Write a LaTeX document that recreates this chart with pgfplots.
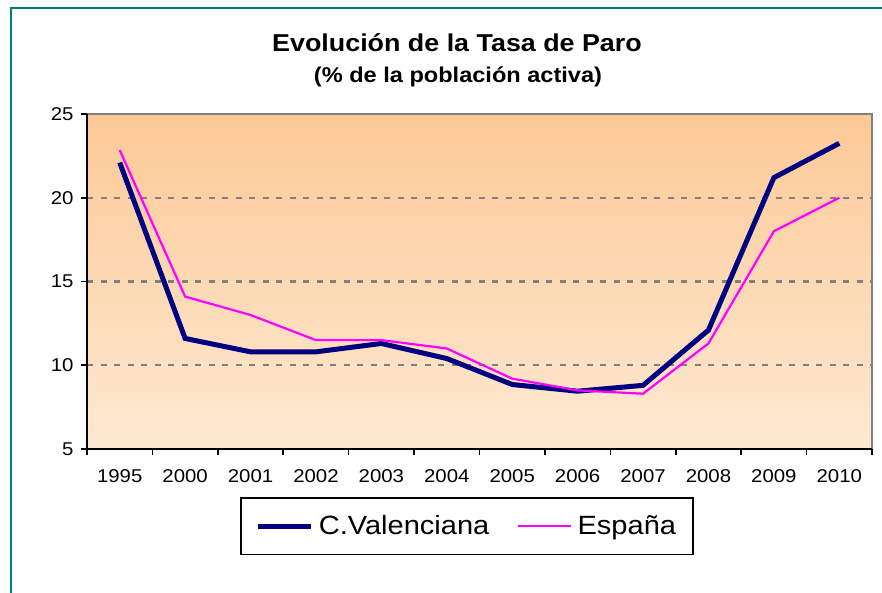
\documentclass[border=0pt]{standalone}
\usepackage{fontspec}
\setmainfont{Liberation Sans}[FakeStretch=1.1]
\usepackage{pgfplots}
\pgfplotsset{compat=1.18}
\definecolor{frameteal}{RGB}{0,128,128}
\definecolor{cvnavy}{RGB}{0,0,128}
\definecolor{espmag}{RGB}{255,0,255}
\definecolor{bgtop}{RGB}{252,201,150}
\definecolor{bgbot}{RGB}{254,233,210}
\definecolor{gridgray}{RGB}{128,128,128}
\pgfplotstableread{
x cv esp
0 22.1 22.85
1 11.6 14.1
2 10.8 13.0
3 10.8 11.5
4 11.3 11.5
5 10.4 11.0
6 8.85 9.2
7 8.45 8.5
8 8.8 8.3
9 12.1 11.3
10 21.2 18.0
11 23.25 20.0
}\datatable
\newcommand{\tickfont}{\fontsize{18.6}{21}\selectfont}
\begin{document}
\begin{tikzpicture}
\useasboundingbox (0,0) rectangle (882bp,593bp);
\fill[white] (0,0) rectangle (882bp,593bp);
\draw[frameteal, line width=2.2bp] (11bp,-10bp) -- (11bp,585bp) -- (900bp,585bp);
\node[anchor=base, font=\bfseries\fontsize{24.5}{28}\selectfont] at (457bp,541.5bp) {Evolución de la Tasa de Paro};
\node[anchor=base, font=\bfseries\fontsize{21.5}{25}\selectfont] at (458bp,510bp) {(\% de la población activa)};
\begin{axis}[
  at={(87bp,144bp)}, anchor=south west,
  scale only axis, width=785bp, height=335bp,
  xmin=-0.5, xmax=11.5, ymin=5, ymax=25,
  clip=false,
  axis line style={draw=none},
  axis background/.style={top color=bgtop, bottom color=bgbot},
  ytick={5,10,15,20,25},
  xtick={0,...,11},
  xticklabels={1995,2000,2001,2002,2003,2004,2005,2006,2007,2008,2009,2010},
  minor xtick={-0.5,0.5,...,11.5},
  tick pos=left,
  tick align=outside,
  major tick length=6bp,
  minor tick length=6bp,
  major x tick style={draw=none},
  tick style={black, line width=1.6bp},
  ymajorgrids,
  major grid style={gridgray, line width=2.2bp, dash pattern=on 6bp off 7.5bp},
  /pgf/number format/assume math mode=true,
  every tick label/.append style={font=\tickfont},
  xticklabel style={yshift=-11bp},
  yticklabel style={xshift=-4bp},
  legend columns=2,
  legend style={at={(0.484,-0.2299)}, anchor=center, draw=black, line width=1.6bp,
    font=\fontsize{26.5}{30}\selectfont, inner xsep=15bp, inner ysep=16bp,
    /tikz/every even column/.append style={column sep=26bp}},
  legend image code/.code={\draw[#1] (0bp,0bp) -- (53bp,0bp); \path (56bp,0bp);},
]
\addplot[cvnavy, line width=5bp] table[x=x, y=cv] {\datatable};
\addlegendentry{C.Valenciana}
\addplot[espmag, line width=2.2bp] table[x=x, y=esp] {\datatable};
\addlegendentry{España}
\draw[gridgray, line width=2bp] (rel axis cs:0,1) -- (rel axis cs:1,1) -- (rel axis cs:1,0);
\draw[black, line width=2.2bp] (rel axis cs:0,1) -- (rel axis cs:0,0) -- (rel axis cs:1,0);
\end{axis}
\end{tikzpicture}
\end{document}
